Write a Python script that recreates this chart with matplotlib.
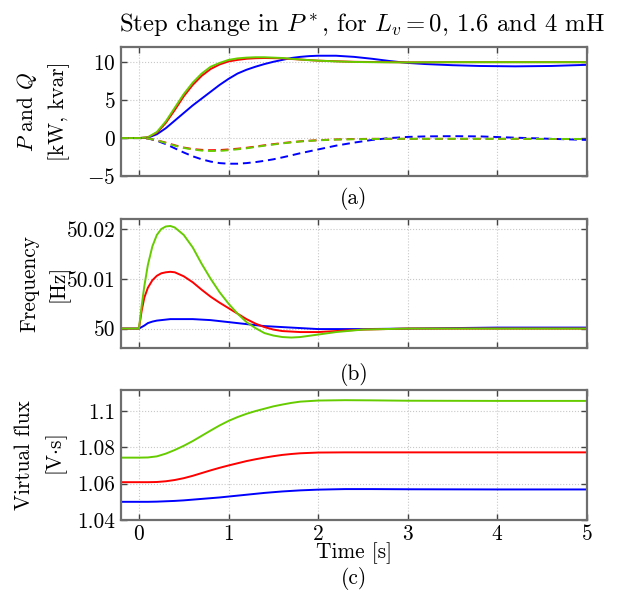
import matplotlib
matplotlib.use("Agg")
import matplotlib.pyplot as plt
import numpy as np

plt.rcParams["font.family"] = "serif"
plt.rcParams["font.serif"] = ["cmr10"]
plt.rcParams["mathtext.fontset"] = "cm"
plt.rcParams["axes.unicode_minus"] = False
plt.rcParams["axes.formatter.use_mathtext"] = True

# colours of the three L_v cases (0, 1.6, 4 mH)
c_blue = "#0000ff"
c_red = "#ff0000"
c_green = "#66cc00"

# ---- (a) active / reactive power [kW, kvar]
t_p = [-0.2, 0, 0.1, 0.2, 0.3, 0.4, 0.5, 0.6, 0.7, 0.8, 0.9, 1.0, 1.1, 1.2, 1.3, 1.4,
       1.5, 1.6, 1.7, 1.8, 1.9, 2.0, 2.2, 2.4, 2.6, 2.8, 3.0, 3.2, 3.5, 3.8, 4.2, 4.6, 5.0]
p_blue = [0, 0, 0.05, 0.5, 1.3, 2.3, 3.3, 4.3, 5.2, 6.1, 7.0, 7.8, 8.5, 9.0, 9.4, 9.75,
          10.05, 10.3, 10.55, 10.7, 10.8, 10.85, 10.85, 10.7, 10.45, 10.15, 9.9, 9.75, 9.6, 9.5, 9.45, 9.5, 9.65]
p_red = [0, 0, 0.1, 0.7, 2.0, 3.7, 5.5, 7.0, 8.2, 9.1, 9.7, 10.1, 10.3, 10.45, 10.52, 10.55,
         10.53, 10.5, 10.42, 10.35, 10.27, 10.2, 10.12, 10.05, 10.02, 10.0, 9.98, 9.98, 10.0, 10.0, 10.0, 10.0, 10.0]
p_green = [0, 0, 0.1, 0.8, 2.2, 4.0, 5.8, 7.3, 8.5, 9.4, 9.9, 10.3, 10.5, 10.6, 10.65, 10.65,
           10.6, 10.55, 10.45, 10.35, 10.27, 10.2, 10.1, 10.03, 10.0, 9.98, 9.97, 9.98, 10.0, 10.0, 10.0, 10.0, 10.0]
q_blue = [0, 0, -0.05, -0.35, -0.8, -1.35, -1.9, -2.4, -2.8, -3.1, -3.3, -3.38, -3.38, -3.3, -3.17, -3.0,
          -2.8, -2.55, -2.28, -2.0, -1.75, -1.5, -1.0, -0.6, -0.25, 0.0, 0.15, 0.22, 0.25, 0.22, 0.05, -0.1, -0.25]
q_red = [0, 0, -0.05, -0.3, -0.6, -0.95, -1.25, -1.45, -1.55, -1.6, -1.58, -1.5, -1.4, -1.28, -1.12, -0.95,
         -0.8, -0.66, -0.54, -0.43, -0.35, -0.28, -0.18, -0.13, -0.1, -0.1, -0.1, -0.1, -0.1, -0.1, -0.1, -0.12, -0.12]
q_green = [0, 0, -0.05, -0.3, -0.65, -1.0, -1.3, -1.5, -1.65, -1.7, -1.7, -1.6, -1.48, -1.35, -1.18, -1.0,
           -0.85, -0.7, -0.57, -0.45, -0.37, -0.3, -0.2, -0.15, -0.12, -0.1, -0.1, -0.1, -0.1, -0.1, -0.1, -0.12, -0.12]

# ---- (b) frequency [Hz]
t_f = [-0.2, 0, 0.03, 0.06, 0.1, 0.15, 0.2, 0.25, 0.3, 0.35, 0.4, 0.5, 0.6, 0.7, 0.8, 0.9, 1.0,
       1.1, 1.2, 1.3, 1.4, 1.5, 1.6, 1.7, 1.8, 2.0, 2.2, 2.5, 3.0, 3.5, 4.0, 5.0]
f_blue = [50, 50, 50.0003, 50.0006, 50.0011, 50.0014, 50.0016, 50.0017, 50.0018, 50.0019, 50.0019, 50.0019,
          50.0019, 50.0018, 50.0017, 50.0015, 50.0013, 50.0011, 50.0009, 50.0007, 50.0005, 50.0004,
          50.0003, 50.0002, 50.0001, 49.9999, 49.9999, 49.9999, 50.0, 50.0001, 50.0002, 50.0002]
f_red = [50, 50, 50.0035, 50.0062, 50.0082, 50.0097, 50.0106, 50.0111, 50.0113, 50.0114, 50.0113, 50.0105,
         50.0093, 50.0078, 50.0064, 50.0052, 50.0041, 50.003, 50.0019, 50.001, 50.0003, 49.9998,
         49.9995, 49.9994, 49.9993, 49.9993, 49.9995, 49.9998, 50.0, 50.0, 50.0, 50.0]
f_green = [50, 50, 50.0045, 50.0085, 50.0128, 50.0165, 50.0188, 50.02, 50.0205, 50.0206, 50.0203, 50.0188,
           50.0163, 50.013, 50.01, 50.0073, 50.005, 50.003, 50.0013, 50.0001, 49.9991, 49.9986,
           49.9983, 49.9982, 49.9983, 49.9988, 49.9993, 49.9998, 50.0, 50.0, 50.0, 50.0]

# ---- (c) virtual flux [V.s]
t_v = [-0.2, 0, 0.1, 0.2, 0.3, 0.4, 0.5, 0.6, 0.7, 0.8, 0.9, 1.0, 1.1, 1.2, 1.3, 1.4, 1.5,
       1.6, 1.7, 1.8, 2.0, 2.3, 2.6, 3.0, 4.0, 5.0]
v_blue = [1.0500, 1.0500, 1.0500, 1.0501, 1.0503, 1.0505, 1.0508, 1.0512, 1.0516, 1.0520, 1.0524, 1.0529,
          1.0534, 1.0539, 1.0544, 1.0549, 1.0553, 1.0557, 1.0560, 1.0563, 1.0567, 1.0570, 1.0570,
          1.0569, 1.0568, 1.0568]
v_red = [1.0608, 1.0608, 1.0608, 1.0609, 1.0613, 1.0620, 1.0630, 1.0643, 1.0658, 1.0673, 1.0687, 1.0700,
         1.0712, 1.0724, 1.0734, 1.0743, 1.0751, 1.0758, 1.0763, 1.0767, 1.0771, 1.0772, 1.0772,
         1.0772, 1.0772, 1.0772]
v_green = [1.0743, 1.0743, 1.0744, 1.0750, 1.0765, 1.0785, 1.0808, 1.0834, 1.0863, 1.0892, 1.0920, 1.0945,
           1.0966, 1.0984, 1.0999, 1.1012, 1.1025, 1.1035, 1.1044, 1.1051, 1.1057, 1.1059, 1.1058,
           1.1056, 1.1055, 1.1055]

W, H = 622, 591
fig = plt.figure(figsize=(W / 100, H / 100), dpi=100)

def box(top, bottom):
    return [121 / W, 1 - bottom / H, 466 / W, (bottom - top) / H]

ax1 = fig.add_axes(box(47, 176))
ax2 = fig.add_axes(box(219, 348))
ax3 = fig.add_axes(box(390, 520))

lw = 1.4
ax1.plot(t_p, p_blue, color=c_blue, lw=lw)
ax1.plot(t_p, p_red, color=c_red, lw=lw)
ax1.plot(t_p, p_green, color=c_green, lw=lw)
ax1.plot(t_p, q_blue, color=c_blue, lw=lw, ls=(0, (4, 2.5)))
ax1.plot(t_p, q_red, color=c_red, lw=lw, ls=(0, (4, 2.5)))
ax1.plot(t_p, q_green, color=c_green, lw=lw, ls=(0, (4, 2.5)))

ax2.plot(t_f, f_blue, color=c_blue, lw=lw)
ax2.plot(t_f, f_red, color=c_red, lw=lw)
ax2.plot(t_f, f_green, color=c_green, lw=lw)

ax3.plot(t_v, v_blue, color=c_blue, lw=lw)
ax3.plot(t_v, v_red, color=c_red, lw=lw)
ax3.plot(t_v, v_green, color=c_green, lw=lw)

ax1.set_ylim(-5, 12)
ax1.set_yticks([-5, 0, 5, 10])
ax2.set_ylim(49.9961, 50.022)
ax2.set_yticks([50, 50.01, 50.02])
ax2.set_yticklabels(["50", "50.01", "50.02"])
ax3.set_ylim(1.04, 1.1115)
ax3.set_yticks([1.04, 1.06, 1.08, 1.1])
ax3.set_yticklabels(["1.04", "1.06", "1.08", "1.1"])

fs = 15.4
for ax in (ax1, ax2, ax3):
    ax.set_xlim(-0.2, 5)
    ax.set_xticks([0, 1, 2, 3, 4, 5])
    ax.grid(True, ls=":", color="#c8c8c8", lw=0.8)
    ax.tick_params(direction="in", top=True, right=True, length=4, width=1,
                   color="#444444", labelsize=fs, pad=4)
    for s in ax.spines.values():
        s.set_color("#6e6e6e")
        s.set_linewidth(1.6)
ax1.tick_params(labelbottom=False)
ax2.tick_params(labelbottom=False)
ax3.tick_params(axis="x", pad=3)

ax1.set_ylabel("$P$ and $Q$\n[kW, kvar]", fontsize=fs, linespacing=1.55)
ax2.set_ylabel("Frequency\n[Hz]", fontsize=fs, linespacing=1.55)
ax3.set_ylabel("Virtual flux\n[V$\\cdot$s]", fontsize=fs, linespacing=1.55)
for ax in (ax1, ax2, ax3):
    ax.yaxis.set_label_coords(-0.11, 0.5)

fig.text(362 / W, 1 - 24 / H, r"Step change in $P^*$, for $L_v = 0$, 1.6 and 4 mH",
         ha="center", va="center", fontsize=17.8)
fig.text(354 / W, 1 - 198 / H, "(a)", ha="center", va="center", fontsize=fs)
fig.text(354 / W, 1 - 375 / H, "(b)", ha="center", va="center", fontsize=fs)
fig.text(354 / W, 1 - 553 / H, "Time [s]", ha="center", va="center", fontsize=fs)
fig.text(354 / W, 1 - 578 / H, "(c)", ha="center", va="center", fontsize=fs)

fig.savefig("out.png", dpi=100)
